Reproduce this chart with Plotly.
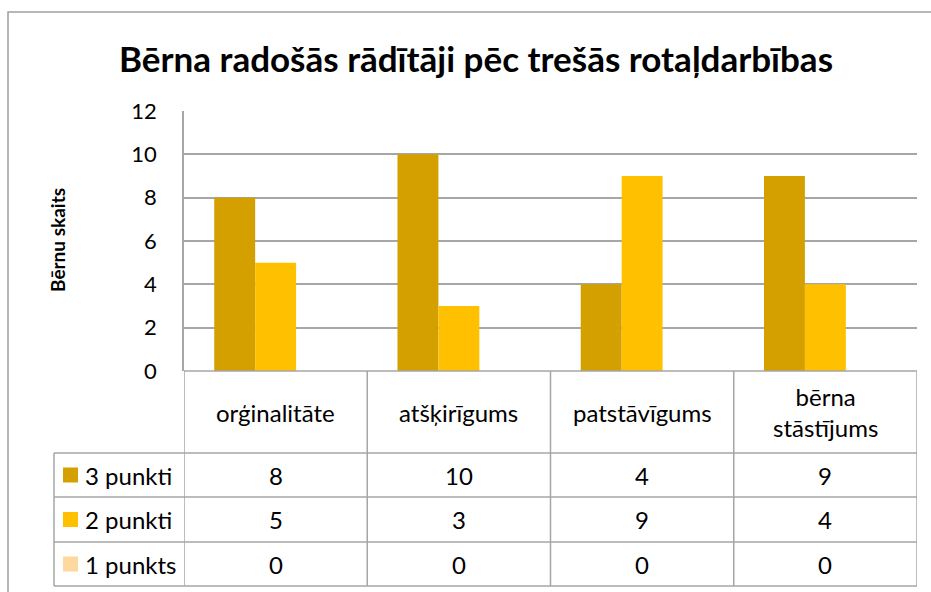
import plotly.graph_objects as go

W, H = 931, 592

categories = ["orģinalitāte", "atšķirīgums", "patstāvīgums", "bērna<br>stāstījums"]
series_names = ["3 punkti", "2 punkti", "1 punkts"]
values_3 = [8, 10, 4, 9]
values_2 = [5, 3, 9, 4]
values_1 = [0, 0, 0, 0]
series_values = [values_3, values_2, values_1]
colors = ["#D4A000", "#FFC000", "#FFD89F"]
y_ticks = [0, 2, 4, 6, 8, 10, 12]
title_text = "Bērna radošās rādītāji pēc trešās rotaļdarbības"
y_title = "Bērnu skaits"

FONT = "Lato"
GRID = "#A6A6A6"

def px(x):
    return x / W

def py(y):
    return 1 - y / H

plot_x0, plot_x1 = 184, 917
plot_top, plot_bottom = 111, 371
header_bottom = 453
row_lines = [453, 497, 542, 586]
row_centers = [(row_lines[i] + row_lines[i + 1]) / 2 for i in range(3)]
table_left = 54

fig = go.Figure()
for name, vals, col in zip(series_names, series_values, colors):
    fig.add_trace(go.Bar(x=list(range(len(categories))), y=vals, name=name,
                         marker=dict(color=col, line=dict(width=0)),
                         hoverinfo="skip"))

shapes = []
# outer chart border
shapes.append(dict(type="rect", xref="paper", yref="paper",
                   x0=px(8), x1=px(W + 20), y0=py(H + 20), y1=py(12),
                   line=dict(color="#A0A0A0", width=1.5), layer="below"))
# horizontal table lines
for yl in row_lines:
    shapes.append(dict(type="line", xref="paper", yref="paper",
                       x0=px(table_left), x1=px(plot_x1), y0=py(yl), y1=py(yl),
                       line=dict(color=GRID, width=1.5)))
shapes.append(dict(type="line", xref="paper", yref="paper",
                   x0=px(plot_x0), x1=px(plot_x1), y0=py(plot_bottom), y1=py(plot_bottom),
                   line=dict(color=GRID, width=1.5)))
# vertical table lines at category boundaries
for i in range(len(categories) + 1):
    shapes.append(dict(type="line", xref="x", yref="paper",
                       x0=i - 0.5, x1=i - 0.5, y0=py(row_lines[-1]), y1=py(plot_bottom),
                       line=dict(color=GRID, width=1.5)))
shapes.append(dict(type="line", xref="paper", yref="paper",
                   x0=px(table_left), x1=px(table_left), y0=py(row_lines[-1]), y1=py(header_bottom),
                   line=dict(color=GRID, width=1.5)))

annotations = []
annotations.append(dict(text="<b>" + title_text + "</b>", xref="paper", yref="paper",
                        x=px(476), y=py(58), showarrow=False,
                        font=dict(family=FONT, size=35, color="#000000"),
                        xanchor="center", yanchor="middle"))
annotations.append(dict(text="<b>" + y_title + "</b>", xref="paper", yref="paper",
                        x=px(57), y=py(240), showarrow=False, textangle=-90,
                        font=dict(family=FONT, size=19, color="#000000"),
                        xanchor="center", yanchor="middle"))
for i, c in enumerate(categories):
    annotations.append(dict(text=c, xref="x", yref="paper", x=i, y=py(412),
                            showarrow=False, font=dict(family=FONT, size=24, color="#000000"),
                            xanchor="center", yanchor="middle"))
for r, (name, vals, col) in enumerate(zip(series_names, series_values, colors)):
    yc = row_centers[r]
    shapes.append(dict(type="rect", xref="paper", yref="paper",
                       x0=px(63), x1=px(78), y0=py(yc + 7.5), y1=py(yc - 7.5),
                       fillcolor=col, line=dict(width=0)))
    annotations.append(dict(text=name, xref="paper", yref="paper", x=px(83), y=py(yc),
                            showarrow=False, font=dict(family=FONT, size=24, color="#000000"),
                            xanchor="left", yanchor="middle"))
    for i, v in enumerate(vals):
        annotations.append(dict(text=str(v), xref="x", yref="paper", x=i, y=py(yc),
                                showarrow=False, font=dict(family=FONT, size=24, color="#000000"),
                                xanchor="center", yanchor="middle"))

fig.update_layout(
    width=W, height=H, autosize=False,
    margin=dict(l=0, r=0, t=0, b=0, pad=0),
    paper_bgcolor="white", plot_bgcolor="white",
    barmode="group", bargap=0.33, bargroupgap=0,
    showlegend=False, hovermode=False,
    shapes=shapes, annotations=annotations,
    xaxis=dict(domain=[px(plot_x0), px(plot_x1)], range=[-0.5, len(categories) - 0.5],
               showticklabels=False, showgrid=False, zeroline=False, showline=False,
               automargin=False, fixedrange=True),
    yaxis=dict(domain=[py(plot_bottom), py(plot_top)], range=[0, 12],
               tickvals=y_ticks, ticktext=[str(t) for t in y_ticks],
               showgrid=True, gridcolor=GRID, gridwidth=1.5,
               zeroline=False, showline=True, linecolor=GRID, linewidth=1.5,
               ticks="", ticklabelstandoff=21, automargin=False,
               tickfont=dict(family=FONT, size=22, color="#000000"),
               fixedrange=True),
)

fig.write_html(
    "out.html",
    config={"displayModeBar": False},
    post_script="document.body.style.margin='0';document.documentElement.style.overflow='hidden';",
)
